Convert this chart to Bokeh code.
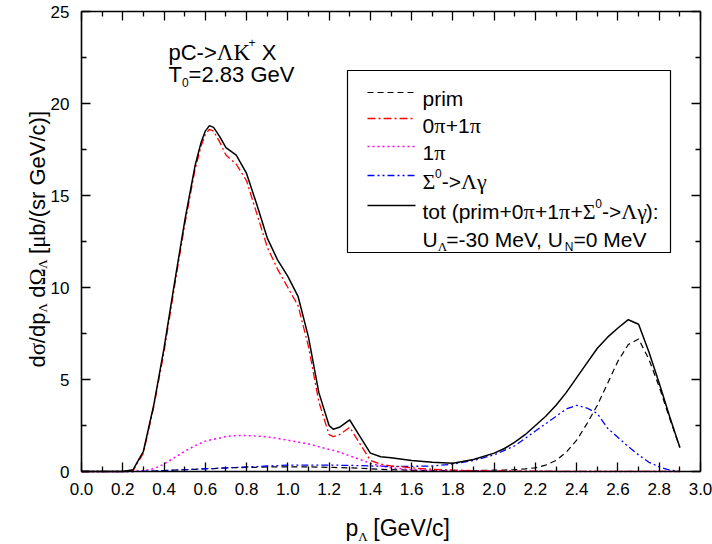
import math
import re
from bokeh.plotting import figure
from bokeh.models import Label, BoxAnnotation, LinearAxis, FixedTicker, Range1d, PrintfTickFormatter
from bokeh.embed import file_html
from bokeh.resources import INLINE

# ---------------- data ----------------
p_lambda = [0.0, 0.1, 0.2, 0.25, 0.3, 0.35, 0.4, 0.45, 0.5, 0.55, 0.58, 0.6, 0.62, 0.64, 0.67, 0.7, 0.75,
            0.8, 0.85, 0.9, 0.95, 1.0, 1.05, 1.1, 1.15, 1.2, 1.22, 1.25, 1.3, 1.35, 1.4, 1.45,
            1.5, 1.6, 1.7, 1.8, 1.9,
            2.0, 2.05, 2.1, 2.15, 2.2, 2.25, 2.3, 2.35, 2.4, 2.45, 2.5, 2.55, 2.6, 2.65, 2.7, 2.75,
            2.8, 2.85, 2.9]
tot = [0, 0, 0, 0.1, 1.1, 3.6, 6.7, 10.2, 13.6, 16.6, 17.9, 18.5, 18.8, 18.7, 18.2, 17.6, 17.2,
       16.2, 14.5, 12.7, 11.5, 10.6, 9.5, 7.3, 4.3, 2.5, 2.3, 2.4, 2.8, 1.9, 1.0, 0.8,
       0.75, 0.6, 0.5, 0.45, 0.65,
       1.0, 1.25, 1.6, 2.0, 2.5, 3.0, 3.6, 4.3, 5.1, 5.9, 6.7, 7.3, 7.8, 8.25, 8.0, 6.5,
       4.8, 3.0, 1.3]
zero_one_pi = [0, 0, 0, 0.05, 1.0, 3.5, 6.5, 10.0, 13.4, 16.4, 17.7, 18.3, 18.6, 18.5, 17.9, 17.2, 16.7,
               15.8, 14.0, 12.2, 11.0, 10.0, 9.0, 6.8, 3.8, 2.0, 1.9, 2.0, 2.4, 1.5, 0.6, 0.4,
               0.3, 0.2, 0.12, 0.08, 0.05,
               0.03, 0.03, 0.02, 0.02, 0.02, 0.02, 0.01, 0.01, 0.01, 0.01, 0.01, 0.01, 0.01, 0.01, 0.01, 0.01,
               0.01, 0.01, 0.0]
one_pi = [0, 0, 0, 0, 0.05, 0.15, 0.4, 0.75, 1.1, 1.4, 1.55, 1.65, 1.7, 1.75, 1.82, 1.9, 1.95,
          1.95, 1.93, 1.88, 1.8, 1.7, 1.6, 1.5, 1.35, 1.2, 1.15, 1.05, 0.85, 0.65, 0.45, 0.3,
          0.2, 0.1, 0.07, 0.05, 0.03,
          0.02, 0.02, 0.01, 0.01, 0.01, 0.01, 0.01, 0, 0, 0, 0, 0, 0, 0, 0, 0,
          0, 0, 0]
prim = [0, 0, 0, 0, 0, 0.02, 0.05, 0.08, 0.1, 0.12, 0.14, 0.15, 0.15, 0.16, 0.18, 0.2, 0.21,
        0.22, 0.23, 0.25, 0.25, 0.25, 0.25, 0.25, 0.24, 0.22, 0.22, 0.21, 0.2, 0.18, 0.15, 0.12,
        0.1, 0.07, 0.05, 0.05, 0.05,
        0.07, 0.08, 0.1, 0.14, 0.2, 0.35, 0.6, 1.05, 1.7, 2.6, 3.6, 4.8, 6.0, 6.9, 7.2, 6.1,
        4.6, 2.9, 1.3]
sigma0 = [0, 0, 0, 0, 0.01, 0.03, 0.05, 0.07, 0.1, 0.12, 0.14, 0.15, 0.16, 0.16, 0.18, 0.2, 0.22,
          0.25, 0.27, 0.3, 0.32, 0.35, 0.35, 0.35, 0.35, 0.35, 0.35, 0.34, 0.33, 0.32, 0.3, 0.29,
          0.28, 0.28, 0.3, 0.4, 0.6,
          0.9, 1.15, 1.4, 1.8, 2.2, 2.6, 3.0, 3.4, 3.6, 3.45, 3.15, 2.35, 1.85, 1.35, 0.9, 0.5,
          0.25, 0.08, 0.0]

x_ticks = [0.0, 0.2, 0.4, 0.6, 0.8, 1.0, 1.2, 1.4, 1.6, 1.8, 2.0, 2.2, 2.4, 2.6, 2.8, 3.0]
x_minor = [0.1, 0.3, 0.5, 0.7, 0.9, 1.1, 1.3, 1.5, 1.7, 1.9, 2.1, 2.3, 2.5, 2.7, 2.9]
y_ticks = [0, 5, 10, 15, 20, 25]
y_minor = [2.5, 7.5, 12.5, 17.5, 22.5]

# ---------------- layout helpers ----------------
FONT = "Liberation Sans"
SERIF = "Liberation Serif"
WIDTH, HEIGHT = 712, 544
X0, X1, Y0, Y1 = 81.0, 700.0, 11.0, 471.0   # plot box edges in page pixels
XMAX, YMAX = 3.0, 25.0


def dx(px):
    return (px - X0) / (X1 - X0) * XMAX


def dy(py):
    return (Y1 - py) / (Y1 - Y0) * YMAX


W_SANS = {' ': .278, '(': .333, ')': .333, '+': .584, ',': .278, '-': .333, '.': .278, '/': .278,
          ':': .278, '=': .584, '>': .584, '[': .278, ']': .278,
          'C': .722, 'G': .778, 'K': .667, 'M': .833, 'N': .722, 'T': .611, 'U': .722, 'V': .667, 'X': .667,
          'b': .556, 'c': .5, 'd': .556, 'e': .556, 'i': .222, 'm': .833, 'o': .556, 'p': .556,
          'r': .333, 's': .5, 't': .278}
W_SERIF = {'σ': .55, 'Ω': .77, 'Λ': .72, 'π': .55, 'γ': .45, 'Σ': .6, 'μ': .55, 'K': .722}
SERIF_CHARS = "σΩΛπγΣμ"


def seg_width(s, size, serif):
    table = W_SERIF if serif else W_SANS
    return sum(table.get(ch, .556) for ch in s) * size


p = figure(width=WIDTH, height=HEIGHT,
           x_range=Range1d(dx(0), dx(WIDTH)), y_range=Range1d(dy(HEIGHT), dy(0)),
           output_backend="svg", toolbar_location=None, min_border=0)
p.grid.visible = False
p.background_fill_color = "white"
p.border_fill_color = "white"
p.outline_line_color = None


def run(pieces, x, y, vertical=False, serif_extra=""):
    """Lay out text runs (text, size, shift); shift > 0 lowers (subscript)."""
    pos = y if vertical else x
    chars = SERIF_CHARS + serif_extra
    for text, size, shift in pieces:
        for seg in re.findall(f"[{chars}]+|[^{chars}]+", text):
            serif = seg[0] in chars
            lead = len(seg) - len(seg.lstrip(" "))
            body = seg.strip(" ")
            adv_lead = seg_width(" " * lead, size, False)
            pos += -adv_lead if vertical else adv_lead
            if body:
                kw = dict(text=body, text_font=SERIF if serif else FONT,
                          text_font_size=f"{size + (1 if serif else 0)}px", text_color="black",
                          text_align="left", text_baseline="alphabetic")
                if vertical:
                    lab = Label(x=dx(x + shift), y=dy(pos), angle=math.pi / 2, **kw)
                else:
                    lab = Label(x=dx(pos), y=dy(y + shift), **kw)
                p.add_layout(lab)
            rest = seg_width(seg[lead:], size, serif)
            pos += -rest if vertical else rest


# ---------------- axes ----------------
def style_axis(ax, ticks, minor, loc, bounds, show_labels=True):
    ax.ticker = FixedTicker(ticks=ticks, minor_ticks=minor)
    ax.fixed_location = loc
    ax.bounds = bounds
    ax.major_tick_in = 9
    ax.major_tick_out = 0
    ax.minor_tick_in = 5
    ax.minor_tick_out = 0
    ax.major_tick_line_color = "black"
    ax.minor_tick_line_color = "black"
    ax.major_tick_line_width = 1.3
    ax.minor_tick_line_width = 1.3
    ax.axis_line_color = "black"
    ax.axis_line_width = 1.6
    ax.axis_label = None
    if show_labels:
        ax.major_label_text_font = FONT
        ax.major_label_text_font_size = "17px"
        ax.major_label_text_color = "black"
    else:
        ax.major_label_overrides = {t: "" for t in ticks}
        ax.major_label_standoff = 0


xax = p.xaxis[0]
style_axis(xax, x_ticks, x_minor, 0, (0, XMAX))
xax.formatter = PrintfTickFormatter(format="%.1f")
xax.major_label_standoff = 11

yax = p.yaxis[0]
style_axis(yax, y_ticks, y_minor, 0, (0, YMAX))
yax.major_label_standoff = 12

rax = LinearAxis()
style_axis(rax, y_ticks, y_minor, XMAX, (0, YMAX), show_labels=False)
p.add_layout(rax, "right")
tax = LinearAxis()
style_axis(tax, x_ticks, x_minor, YMAX, (0, XMAX), show_labels=False)
p.add_layout(tax, "above")

# ---------------- curves ----------------
p.line(p_lambda, prim, line_color="black", line_width=1.2, line_dash="6 4")
p.line(p_lambda, one_pi, line_color="#ff00ff", line_width=1.5, line_dash="2 3")
p.line(p_lambda, sigma0, line_color="#0000ff", line_width=1.3, line_dash="7 3 2 3 2 3")
p.line(p_lambda, zero_one_pi, line_color="#ff0000", line_width=1.3, line_dash="8 3 2 3")
p.line(p_lambda, tot, line_color="black", line_width=1.5)

# ---------------- legend (manual, to allow sub/superscripts) ----------------
p.add_layout(BoxAnnotation(left=dx(347), right=dx(670), top=dy(70), bottom=dy(252),
                           fill_color=None, line_color="black", line_alpha=1.0, line_width=1.2))
SW0, SW1, TX = 367, 415, 422
styles = [
    dict(line_color="black", line_width=1.2, line_dash="6 4"),
    dict(line_color="#ff0000", line_width=1.3, line_dash="8 3 2 3"),
    dict(line_color="#ff00ff", line_width=1.5, line_dash="2 3"),
    dict(line_color="#0000ff", line_width=1.3, line_dash="7 3 2 3 2 3"),
    dict(line_color="black", line_width=1.5),
]
line_rows = [92, 118, 146, 175, 205]
for st, ry in zip(styles, line_rows):
    p.line([dx(SW0), dx(SW1)], [dy(ry), dy(ry)], **st)

LF, SF = 21, 12
run([("prim", LF, 0)], TX, 98)
run([("0π+1π", LF, 0)], TX, 125)
run([("1π", LF, 0)], TX, 152)
run([("Σ", LF, 0), ("0", SF, -8), ("->Λγ", LF, 0)], TX, 181)
run([("tot (prim+0π+1π+Σ", LF, 0), ("0", SF, -8), ("->Λγ):", LF, 0)], TX, 211)
run([("U", LF, 0), ("Λ", SF, 7), ("=-30 MeV, U", LF, 0), ("N", SF, 7), ("=0 MeV", LF, 0)], TX, 239)

# ---------------- annotation text ----------------
run([("pC->ΛK", 22, 0), ("+", SF, -10), (" X", 22, 0)], 168, 52, serif_extra="K")
run([("T", 22, 0), ("0", SF, 8), ("=2.83 GeV", 22, 0)], 168, 74)

# ---------------- axis titles ----------------
run([("p", 23, 0), ("Λ", SF, 9), (" [GeV/c]", 23, 0)], 345, 527)
run([("dσ/dp", 22, 0), ("Λ", SF, 5), (" dΩ", 22, 0), ("Λ", SF, 5), (" [μb/(sr GeV/c)]", 22, 0)],
    37, 367, vertical=True)

open("out.html", "w").write(file_html(p, INLINE))
